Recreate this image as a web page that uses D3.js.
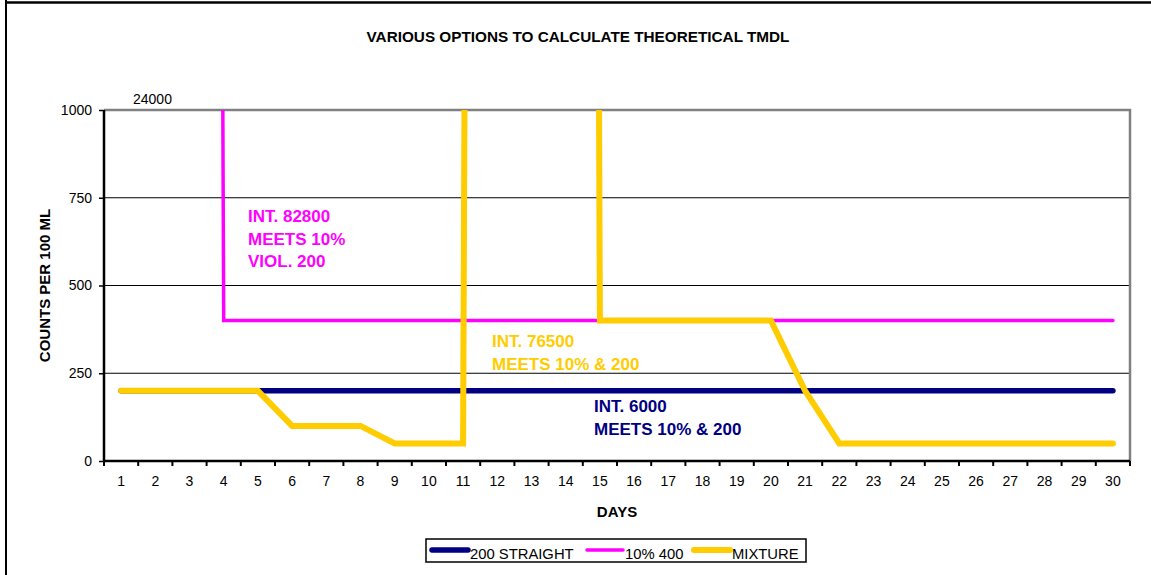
<!DOCTYPE html>
<html>
<head>
<meta charset="utf-8">
<script src="https://cdn.jsdelivr.net/npm/d3@7"></script>
<style>
  body { margin: 0; background: #fff; }
  svg { display: block; font-family: Arial, "Liberation Sans", sans-serif; }
</style>
</head>
<body>
<script>
// data
const days = ["1","2","3","4","5","6","7","8","9","10","11","12","13","14","15",
              "16","17","18","19","20","21","22","23","24","25","26","27","28","29","30"];
const straight200 = [200,200,200,200,200,200,200,200,200,200,200,200,200,200,200,
                     200,200,200,200,200,200,200,200,200,200,200,200,200,200,200];
const tenPct400 = [24000,24000,24000,400,400,400,400,400,400,400,400,400,400,400,400,
                   400,400,400,400,400,400,400,400,400,400,400,400,400,400,400];
const mixture = [200,200,200,200,200,100,100,100,50,50,50,24000,24000,24000,400,
                 400,400,400,400,400,200,50,50,50,50,50,50,50,50,50];
const yTicks = [0, 250, 500, 750, 1000];

const W = 1151, H = 575;
let margin = {top: 110, right: 21, bottom: 114, left: 104},
    width = W - margin.left - margin.right,
    height = H - margin.top - margin.bottom;

let svg = d3.select("body").append("svg")
    .attr("width", W)
    .attr("height", H);

// page border (top and left only)
svg.append("line").attr("x1", 6).attr("x2", 6).attr("y1", 0).attr("y2", H)
    .attr("stroke", "#000").attr("stroke-width", 2);
svg.append("line").attr("x1", 5).attr("x2", W).attr("y1", 2.5).attr("y2", 2.5)
    .attr("stroke", "#000").attr("stroke-width", 2.5);

svg.append("text")
    .attr("x", 578).attr("y", 42)
    .attr("text-anchor", "middle")
    .style("font-size", "15.3px").style("font-weight", "bold")
    .text("VARIOUS OPTIONS TO CALCULATE THEORETICAL TMDL");

let g = svg.append("g")
    .attr("transform", "translate(" + margin.left + "," + margin.top + ")");

let x = d3.scaleBand().domain(days).range([0, width]).padding(0);
let y = d3.scaleLinear().domain([0, 1000]).range([height, 0]);

// gridlines
g.selectAll(".grid")
    .data(yTicks.filter(d => d > 0 && d < 1000))
    .enter().append("line")
    .attr("x1", 0).attr("x2", width)
    .attr("y1", d => y(d)).attr("y2", d => y(d))
    .attr("stroke", "#000").attr("stroke-width", 1);

// plot border top + right (grey)
g.append("path")
    .attr("d", "M0," + y(1000) + "H" + width + "V" + height)
    .attr("fill", "none").attr("stroke", "#808080").attr("stroke-width", 2.5);

// y axis
let yAxis = g.append("g")
    .call(d3.axisLeft(y).tickValues(yTicks).tickFormat(d3.format("d")).tickSize(5).tickPadding(7));
yAxis.select(".domain").attr("stroke-width", 2.5).attr("d", "M0," + height + "V" + y(1000));
yAxis.selectAll(".tick line").attr("stroke-width", 1.5);
yAxis.selectAll("text").style("font-size", "14px").style("font-family", "Arial, 'Liberation Sans', sans-serif");

// x axis: labels centred, ticks on band boundaries
let xAxis = g.append("g")
    .attr("transform", "translate(0," + height + ")")
    .call(d3.axisBottom(x).tickSize(0).tickPadding(15));
xAxis.select(".domain").attr("stroke-width", 2.5).attr("d", "M0,0H" + width);
xAxis.selectAll("text").style("font-size", "14px").style("font-family", "Arial, 'Liberation Sans', sans-serif");
g.selectAll(".xtick")
    .data(days.concat(["end"]))
    .enter().append("line")
    .attr("x1", (d, i) => i * x.bandwidth())
    .attr("x2", (d, i) => i * x.bandwidth())
    .attr("y1", height).attr("y2", height + 5)
    .attr("stroke", "#000").attr("stroke-width", 2);

// axis titles
svg.append("text")
    .attr("transform", "translate(50," + (margin.top + height / 2) + ") rotate(-90)")
    .attr("text-anchor", "middle")
    .style("font-size", "15px").style("font-weight", "bold")
    .text("COUNTS PER 100 ML");
svg.append("text")
    .attr("x", margin.left + width / 2).attr("y", 517)
    .attr("text-anchor", "middle")
    .style("font-size", "15px").style("font-weight", "bold")
    .text("DAYS");

// series
svg.append("clipPath").attr("id", "plotclip")
    .append("rect").attr("x", 0).attr("y", 0).attr("width", width).attr("height", height);

let line = d3.line()
    .x((d, i) => x(days[i]) + x.bandwidth() / 2)
    .y(d => y(d));

let series = [
    {name: "200 STRAIGHT", values: straight200, color: "#000080", w: 5.5},
    {name: "10% 400", values: tenPct400, color: "#FF00FF", w: 3.5},
    {name: "MIXTURE", values: mixture, color: "#FFCC00", w: 6}
];

let lines = g.append("g").attr("clip-path", "url(#plotclip)");
lines.selectAll("path")
    .data(series)
    .enter().append("path")
    .attr("d", d => line(d.values))
    .attr("fill", "none")
    .attr("stroke", d => d.color)
    .attr("stroke-width", d => d.w)
    .attr("stroke-linecap", "round")
    .attr("stroke-linejoin", "miter");

// data label for off-scale value
svg.append("text")
    .attr("x", 133).attr("y", 104)
    .style("font-size", "14px")
    .text("24000");

// annotations
function note(lines_, x0, y0, color) {
    svg.append("g").selectAll("text")
        .data(lines_)
        .enter().append("text")
        .attr("x", x0).attr("y", (d, i) => y0 + i * 22.5)
        .attr("fill", color)
        .style("font-size", "17px").style("font-weight", "bold")
        .text(d => d);
}
note(["INT. 82800", "MEETS 10%", "VIOL. 200"], 248, 222, "#FF00FF");
note(["INT. 76500", "MEETS 10% & 200"], 492, 347, "#FFCC00");
note(["INT. 6000", "MEETS 10% & 200"], 594, 412, "#000080");

// legend
let leg = svg.append("g").attr("transform", "translate(426,539)");
leg.append("rect").attr("width", 380).attr("height", 23)
    .attr("fill", "#fff").attr("stroke", "#000").attr("stroke-width", 1.5);
let legX = [4, 159, 266];
let legItem = leg.selectAll(".item")
    .data(series)
    .enter().append("g")
    .attr("transform", (d, i) => "translate(" + legX[i] + ",0)");
legItem.append("line")
    .attr("x1", 2).attr("x2", 38).attr("y1", 11).attr("y2", 11)
    .attr("stroke", d => d.color)
    .attr("stroke-width", d => d.w)
    .attr("stroke-linecap", "round");
legItem.append("text")
    .attr("x", 40).attr("y", 20)
    .style("font-size", "14.8px")
    .text(d => d.name);
</script>
</body>
</html>
